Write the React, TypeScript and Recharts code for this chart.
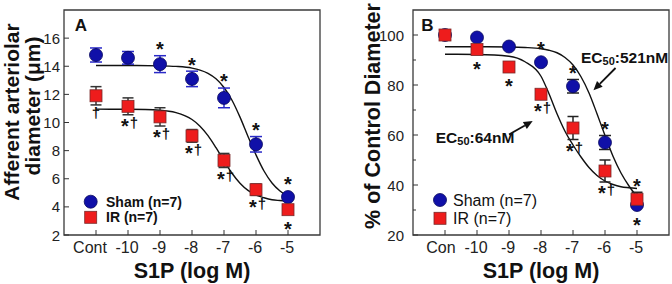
import React from 'react'
import {
  ComposedChart,
  Scatter,
  Line,
  XAxis,
  YAxis,
  ErrorBar,
  ReferenceArea,
  ReferenceLine,
  ReferenceDot,
  Legend,
} from 'recharts'

const FONT = '"Liberation Sans", Arial, Helvetica, sans-serif'
const INK = '#111'

// S1P concentration, log M (control is plotted one step left of -10)
const doses = [-11, -10, -9, -8, -7, -6, -5]
const doseLabelsA = ['Cont', '-10', '-9', '-8', '-7', '-6', '-5']
const doseLabelsB = ['Con', '-10', '-9', '-8', '-7', '-6', '-5']

// A: afferent arteriolar diameter (µm), mean ± SE
const shamDiam = [14.8, 14.6, 14.15, 13.1, 11.75, 8.45, 4.7]
const shamDiamErr = [0.5, 0.45, 0.6, 0.55, 0.7, 0.55, 0.15]
const irDiam = [11.9, 11.15, 10.4, 9.05, 7.3, 5.22, 3.8]
const irDiamErr = [0.65, 0.6, 0.65, 0.45, 0.5, 0.4, 0.15]
const upperSigA = ['', '', '*', '*', '*', '*', '*']
const lowerSigA = ['†', '*†', '*†', '*†', '*†', '*†', '*']

// B: % of control diameter, mean ± SE
const shamPct = [100, 99, 95.4, 89.1, 79.5, 57, 32]
const shamPctErr = [0, 0.5, 0.5, 0.5, 2.7, 2.8, 0.8]
const irPct = [100, 94.2, 87.2, 76.3, 62.8, 45.6, 34.3]
const irPctErr = [0, 0.5, 0.5, 0.5, 4.6, 4.4, 2.8]
const upperSigB = ['', '', '', '*', '*', '*', '*']
const lowerSigB = ['', '*', '*', '*†', '*†', '*†', '*']

// sigmoid fits, sampled along the dose axis
const fitDoses = [-11, -10, -9, -8.5, -8, -7.75, -7.5, -7.25, -7, -6.75, -6.5, -6.25, -6, -5.75, -5.5, -5.25, -5]
const shamDiamFit = [14.05, 14.05, 14.03, 13.99, 13.87, 13.73, 13.5, 13.11, 12.49, 11.58, 10.38, 9.01, 7.7, 6.55, 5.7, 5.13, 4.75]
const irDiamFit = [10.95, 10.94, 10.87, 10.7, 10.21, 9.74, 9.07, 8.21, 7.27, 6.39, 5.68, 5.17, 4.84, 4.65, 4.51, 4.45, 4.4]
const shamPctFit = [95.3, 95.3, 95.2, 95.0, 94.5, 93.9, 92.9, 91.0, 88.0, 83.3, 76.8, 68.5, 59.8, 51.5, 44.8, 39.6, 35.3]
const irPctFit = [92.3, 92.2, 91.5, 89.3, 83.5, 76.5, 68.5, 61.5, 56, 51.2, 47, 43.8, 41.6, 40.2, 39.3, 38.9, 38.6]

const W = 336
const H = 284
const PLOT_TOP = 10
const PLOT_BOTTOM = 235
const PLOT_W = 256
const X_AXIS_H = 30
const MARK_R = 6.5

const BLUE = '#1010a8'
const RED = '#ee1c1c'

const Circle = (p: any) => (
  <circle cx={p.cx} cy={p.cy} r={MARK_R} fill={BLUE} stroke="#08085e" strokeWidth={0.8} />
)
const Square = (p: any) => (
  <rect x={p.cx - 6} y={p.cy - 6} width={12} height={12} fill={RED} stroke="#7a2a2a" strokeWidth={0.8} />
)

// '*' and '†' drawn at different sizes, centred on (x, y)
function SigMark({ x, y, text }: { x: number; y: number; text: string }) {
  if (!text) return null
  const star = text.includes('*')
  const dagger = text.includes('†')
  const both = star && dagger
  return (
    <g fontFamily={FONT} fontWeight="bold" fill={INK}>
      {star && (
        <text x={both ? x - 3 : x} y={both ? y + 9 : y + 11.4} fontSize={20} textAnchor="middle">
          *
        </text>
      )}
      {dagger && (
        <text x={both ? x + 6 : x} y={y + 4.2} fontSize={15} textAnchor="middle">
          †
        </text>
      )}
    </g>
  )
}

const Arrow = (p: any) => {
  const { x1, y1, x2, y2 } = p
  const a = Math.atan2(y2 - y1, x2 - x1)
  const len = 9
  const half = 4
  const bx = x2 - len * Math.cos(a)
  const by = y2 - len * Math.sin(a)
  const nx = -Math.sin(a) * half
  const ny = Math.cos(a) * half
  return (
    <g>
      <line x1={x1} y1={y1} x2={bx} y2={by} stroke={INK} strokeWidth={1.8} />
      <polygon points={`${x2},${y2} ${bx + nx},${by + ny} ${bx - nx},${by - ny}`} fill={INK} />
    </g>
  )
}

const Ec50Label = (p: any) => (
  <text x={p.cx} y={p.cy} dominantBaseline="central" fontFamily={FONT} fontWeight="bold" fontSize={15.5} fill={INK}>
    EC
    <tspan fontSize={11} dy={4}>
      50
    </tspan>
    <tspan dy={-4}>:{p.text}</tspan>
  </text>
)

const PanelLetter = (p: any) => (
  <text x={p.cx} y={p.cy} textAnchor="middle" dominantBaseline="central" fontFamily={FONT} fontWeight="bold" fontSize={17} fill={INK}>
    {p.text}
  </text>
)

function LegendBox({ bold }: { bold: boolean }) {
  const fs = bold ? 14 : 16
  const tx = bold ? 24 : 21
  const cx = bold ? 8.7 : 8
  const rows = bold ? [9.7, 25.3] : [9, 27.3]
  return (
    <svg width={110} height={40} style={{ display: 'block' }}>
      <circle cx={cx} cy={rows[0]} r={MARK_R} fill={BLUE} stroke="#08085e" strokeWidth={0.8} />
      <rect x={cx - 6} y={rows[1] - 6} width={12} height={12} fill={RED} stroke="#7a2a2a" strokeWidth={0.8} />
      <text x={tx} y={rows[0]} dominantBaseline="central" fontFamily={FONT} fontWeight={bold ? 'bold' : 'normal'} fontSize={fs} fill={INK}>
        Sham (n=7)
      </text>
      <text x={tx} y={rows[1]} dominantBaseline="central" fontFamily={FONT} fontWeight={bold ? 'bold' : 'normal'} fontSize={fs} fill={INK}>
        IR (n=7)
      </text>
    </svg>
  )
}

type PanelProps = {
  plotLeft: number
  yDomain: [number, number]
  yTicks: number[]
  labelEvery: number
  yLabelGap: number
  tickLabels: string[]
  firstLabelShift: number
  sham: number[]
  shamErr: number[]
  ir: number[]
  irErr: number[]
  upperSig: string[]
  lowerSig: string[]
  shamFit: number[]
  irFit: number[]
  shamBar: string
  irBar: string
  yTitle: React.ReactElement
  legendBold: boolean
  legendPos: { left: number; top: number }
  children?: React.ReactNode
}

function Panel(p: PanelProps) {
  const [yMin, yMax] = p.yDomain
  const k = (PLOT_BOTTOM - PLOT_TOP) / (yMax - yMin)

  const shamRows = doses.map((d, i) => ({ dose: d, v: p.sham[i], e: p.shamErr[i] }))
  const irRows = doses.map((d, i) => ({ dose: d, v: p.ir[i], e: p.irErr[i] }))
  const shamFitRows = fitDoses.map((d, i) => ({ dose: d, v: p.shamFit[i] }))
  const irFitRows = fitDoses.map((d, i) => ({ dose: d, v: p.irFit[i] }))
  const sigRows = doses.map((d, i) => ({ dose: d, v: p.sham[i], i }))

  // significance marks sit above / below the whole cluster at each dose
  const sigShape = (s: any) => {
    const i = s.payload.i
    const px = (v: number) => s.cy + (p.sham[i] - v) * k
    const top = Math.min(
      px(p.sham[i] + p.shamErr[i]),
      px(p.sham[i]) - MARK_R,
      px(p.ir[i] + p.irErr[i]),
      px(p.ir[i]) - 6,
    )
    const bottom = Math.max(
      px(p.sham[i] - p.shamErr[i]),
      px(p.sham[i]) + MARK_R,
      px(p.ir[i] - p.irErr[i]),
      px(p.ir[i]) + 6,
    )
    return (
      <g>
        <SigMark x={s.cx} y={top - 11} text={p.upperSig[i]} />
        <SigMark x={s.cx} y={bottom + 9} text={p.lowerSig[i]} />
      </g>
    )
  }

  const xTick = (t: any) => {
    const idx = doses.indexOf(t.payload.value)
    const shift = idx === 0 ? p.firstLabelShift : -1
    return (
      <g>
        <line x1={t.x} y1={t.y} x2={t.x} y2={t.y - 5} stroke="#333" strokeWidth={1} />
        <text x={t.x + shift} y={t.y + 12} textAnchor="middle" dominantBaseline="central" fontFamily={FONT} fontSize={16} fill="#222">
          {p.tickLabels[idx]}
        </text>
      </g>
    )
  }

  const yTick = (t: any) => {
    const v = t.payload.value
    const major = (v - yMin) % p.labelEvery === 0
    return (
      <g>
        <line x1={t.x} y1={t.y} x2={t.x + (major ? 5 : 3)} y2={t.y} stroke="#333" strokeWidth={1} />
        {major && (
          <text x={t.x - p.yLabelGap} y={t.y} textAnchor="end" dominantBaseline="central" fontFamily={FONT} fontSize={15} fill="#222">
            {v}
          </text>
        )}
      </g>
    )
  }

  const xTitle = () => (
    <text x={p.plotLeft + PLOT_W / 2} y={271} textAnchor="middle" dominantBaseline="central" fontFamily={FONT} fontWeight="bold" fontSize={21.5} fill={INK}>
      S1P (log M)
    </text>
  )

  return (
    <ComposedChart
      width={W}
      height={H}
      margin={{ top: PLOT_TOP, right: W - p.plotLeft - PLOT_W, bottom: H - PLOT_BOTTOM - X_AXIS_H, left: 0 }}
    >
      <XAxis
        dataKey="dose"
        type="number"
        domain={[-12, -4]}
        ticks={doses}
        interval={0}
        height={X_AXIS_H}
        tickSize={0}
        tickMargin={0}
        tickLine={false}
        axisLine={false}
        tick={xTick}
        label={xTitle}
      />
      <YAxis
        dataKey="v"
        type="number"
        domain={p.yDomain}
        ticks={p.yTicks}
        interval={0}
        width={p.plotLeft}
        tickSize={0}
        tickMargin={0}
        tickLine={false}
        axisLine={false}
        tick={yTick}
        label={p.yTitle}
      />
      <ReferenceArea x1={-12} x2={-4} y1={yMin} y2={yMax} fill="none" fillOpacity={0} stroke="#3a3a3a" strokeWidth={1.3} ifOverflow="visible" />

      <Line data={shamFitRows} dataKey="v" type="monotone" dot={false} stroke={INK} strokeWidth={1.4} isAnimationActive={false} />
      <Line data={irFitRows} dataKey="v" type="monotone" dot={false} stroke={INK} strokeWidth={1.4} isAnimationActive={false} />

      <Scatter data={shamRows} dataKey="v" shape={Circle} isAnimationActive={false}>
        <ErrorBar dataKey="e" direction="y" width={6} stroke={p.shamBar} strokeWidth={1.5} isAnimationActive={false} />
      </Scatter>
      <Scatter data={irRows} dataKey="v" shape={Square} isAnimationActive={false}>
        <ErrorBar dataKey="e" direction="y" width={5.5} stroke={p.irBar} strokeWidth={1.5} isAnimationActive={false} />
      </Scatter>
      <Scatter data={sigRows} dataKey="v" shape={sigShape} isAnimationActive={false} />

      {p.children}

      <Legend
        layout="vertical"
        align="center"
        verticalAlign="middle"
        wrapperStyle={{ left: p.legendPos.left, top: p.legendPos.top, width: 'auto', height: 'auto' }}
        content={() => <LegendBox bold={p.legendBold} />}
      />
    </ComposedChart>
  )
}

const titleStyle = { fontFamily: FONT, fontWeight: 'bold' as const, fill: INK }

const YTitleA = () => (
  <g>
    <text x={11} y={112} transform="rotate(-90 11 112)" textAnchor="middle" dominantBaseline="central" fontSize={21} {...titleStyle}>
      Afferent arteriolar
    </text>
    <text x={32.5} y={106} transform="rotate(-90 32.5 106)" textAnchor="middle" dominantBaseline="central" fontSize={21} {...titleStyle}>
      diameter (μm)
    </text>
  </g>
)

const YTitleB = () => (
  <text x={36.5} y={116} transform="rotate(-90 36.5 116)" textAnchor="middle" dominantBaseline="central" fontSize={21.5} {...titleStyle}>
    % of Control Diameter
  </text>
)

export default function App() {
  return (
    <div style={{ position: 'absolute', left: 0, top: 0, width: 672, height: 284, background: '#fff', display: 'flex' }}>
      <Panel
        plotLeft={64}
        yDomain={[2, 18]}
        yTicks={[2, 4, 6, 8, 10, 12, 14, 16]}
        labelEvery={2}
        yLabelGap={4}
        tickLabels={doseLabelsA}
        firstLabelShift={-6}
        sham={shamDiam}
        shamErr={shamDiamErr}
        ir={irDiam}
        irErr={irDiamErr}
        upperSig={upperSigA}
        lowerSig={lowerSigA}
        shamFit={shamDiamFit}
        irFit={irDiamFit}
        shamBar="#2a2ac8"
        irBar="#333"
        yTitle={<YTitleA />}
        legendBold
        legendPos={{ left: 82, top: 192 }}
      >
        <ReferenceDot x={-11.47} y={16.87} r={0} shape={(s: any) => <PanelLetter {...s} text="A" />} />
      </Panel>
      <Panel
        plotLeft={77}
        yDomain={[20, 110]}
        yTicks={[20, 30, 40, 50, 60, 70, 80, 90, 100]}
        labelEvery={20}
        yLabelGap={9}
        tickLabels={doseLabelsB}
        firstLabelShift={-4}
        sham={shamPct}
        shamErr={shamPctErr}
        ir={irPct}
        irErr={irPctErr}
        upperSig={upperSigB}
        lowerSig={lowerSigB}
        shamFit={shamPctFit}
        irFit={irPctFit}
        shamBar="#222"
        irBar="#222"
        yTitle={<YTitleB />}
        legendBold={false}
        legendPos={{ left: 96, top: 191 }}
      >
        <ReferenceDot x={-11.55} y={103.9} r={0} shape={(s: any) => <PanelLetter {...s} text="B" />} />
        <ReferenceDot x={-6.75} y={91.2} r={0} shape={(s: any) => <Ec50Label {...s} text="521nM" />} />
        <ReferenceDot x={-11.29} y={59.2} r={0} shape={(s: any) => <Ec50Label {...s} text="64nM" />} />
        <ReferenceLine segment={[{ x: -5.67, y: 86.8 }, { x: -6.36, y: 77.9 }]} shape={Arrow} />
        <ReferenceLine segment={[{ x: -9.0, y: 60.2 }, { x: -8.26, y: 65.6 }]} shape={Arrow} />
      </Panel>
    </div>
  )
}
